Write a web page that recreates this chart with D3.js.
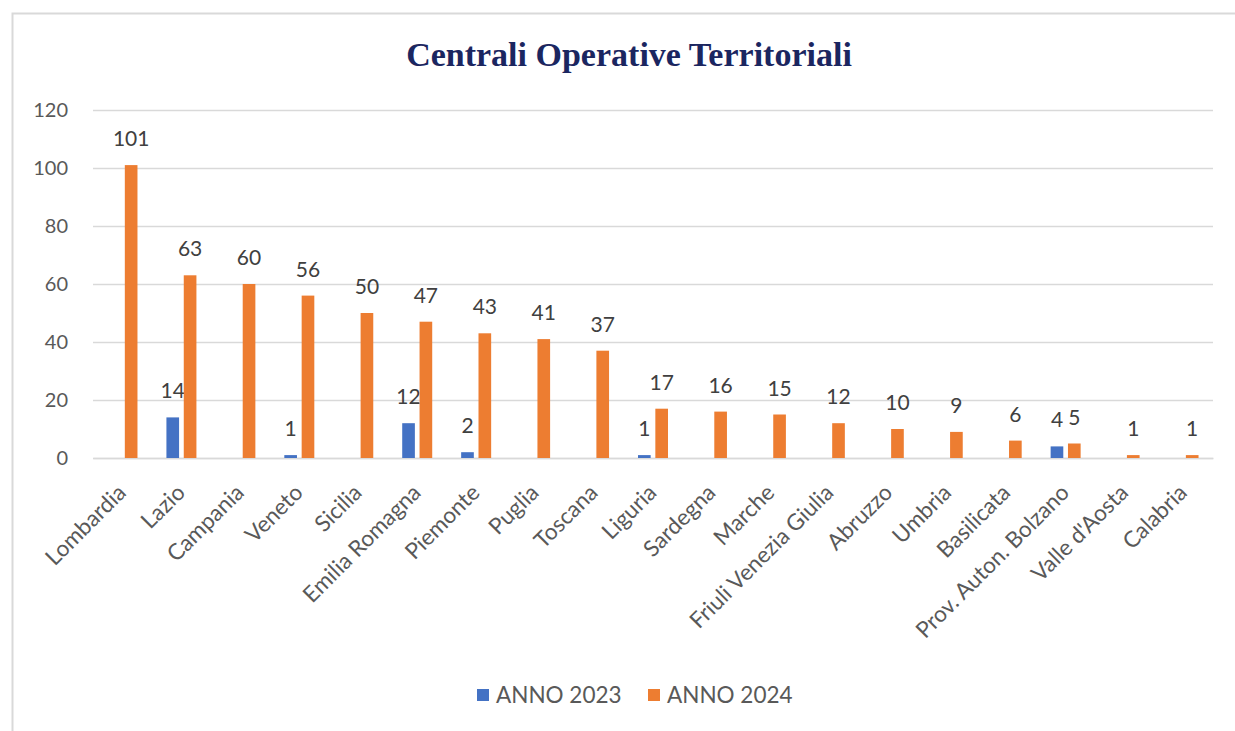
<!DOCTYPE html>
<html>
<head>
<meta charset="utf-8">
<script src="https://cdn.jsdelivr.net/npm/d3@7"></script>
<style>
  body { margin: 0; background: #fff; }
  svg { display: block; }
</style>
</head>
<body>
<script>
const regions = [
  "Lombardia", "Lazio", "Campania", "Veneto", "Sicilia", "Emilia Romagna",
  "Piemonte", "Puglia", "Toscana", "Liguria", "Sardegna", "Marche",
  "Friuli Venezia Giulia", "Abruzzo", "Umbria", "Basilicata",
  "Prov. Auton. Bolzano", "Valle d'Aosta", "Calabria"
];
const anno2023 = [null, 14, null, 1, null, 12, 2, null, null, 1, null, null, null, null, null, null, 4, null, null];
const anno2024 = [101, 63, 60, 56, 50, 47, 43, 41, 37, 17, 16, 15, 12, 10, 9, 6, 5, 1, 1];
const seriesNames = ["ANNO 2023", "ANNO 2024"];
const yTicks = [0, 20, 40, 60, 80, 100, 120];

const width = 1235;
const height = 731;
const colors = { "ANNO 2023": "#4472C4", "ANNO 2024": "#ED7D31" };
const font = "Lato, 'Open Sans', sans-serif";

const svg = d3.select("body").append("svg")
  .attr("width", width)
  .attr("height", height);

// chart frame
svg.append("rect")
  .attr("x", 12.5).attr("y", 13.5)
  .attr("width", width).attr("height", height)
  .attr("fill", "#fff")
  .attr("stroke", "#d9d9d9")
  .attr("stroke-width", 2);

svg.append("text")
  .text("Centrali Operative Territoriali")
  .attr("x", 629).attr("y", 66)
  .attr("text-anchor", "middle")
  .attr("font-family", "'Liberation Serif', 'Times New Roman', serif")
  .attr("font-weight", "bold")
  .attr("font-size", 34)
  .attr("fill", "#1B2660");

const xScale = d3.scaleBand()
  .domain(regions)
  .range([93, 1213]);

const x1 = d3.scaleBand()
  .domain(seriesNames)
  .range([-15, 15])
  .paddingInner(0.27);

const yScale = d3.scaleLinear()
  .domain([0, 120])
  .range([458, 110]);

// gridlines + y labels
const yAxis = d3.axisLeft(yScale)
  .tickValues(yTicks)
  .tickSize(-(1213 - 93))
  .tickPadding(25);

const gy = svg.append("g")
  .attr("transform", "translate(93,0)")
  .call(yAxis);
gy.select(".domain").remove();
gy.selectAll(".tick line").attr("stroke", "#d9d9d9").attr("stroke-width", 1.3);
gy.selectAll(".tick text")
  .attr("font-family", font)
  .attr("font-size", 20)
  .attr("fill", "#595959");

// x labels
const xAxis = d3.axisBottom(xScale).tickSize(0).tickPadding(0);
const gx = svg.append("g")
  .attr("transform", "translate(0,458)")
  .call(xAxis);
gx.select(".domain").attr("stroke", "#d9d9d9").attr("stroke-width", 1.3);
gx.selectAll(".tick text")
  .attr("font-family", font)
  .attr("font-size", 22.5)
  .attr("fill", "#595959")
  .attr("text-anchor", "end")
  .attr("dy", null)
  .attr("y", 0)
  .attr("transform", "translate(5,36) rotate(-45)");

const rows = regions.map((r, i) => ({
  region: r,
  values: [
    { key: "ANNO 2023", value: anno2023[i] },
    { key: "ANNO 2024", value: anno2024[i] }
  ]
}));

const groups = svg.append("g").selectAll("g")
  .data(rows)
  .join("g")
  .attr("transform", (d) => `translate(${xScale(d.region) + xScale.bandwidth() / 2},0)`);

const bars = groups.selectAll("g")
  .data((d) => d.values.filter((v) => v.value !== null))
  .join("g");

bars.append("rect")
  .attr("x", (d) => x1(d.key))
  .attr("width", x1.bandwidth())
  .attr("y", (d) => yScale(d.value))
  .attr("height", (d) => yScale(0) - yScale(d.value))
  .attr("fill", (d) => colors[d.key]);

bars.append("text")
  .text((d) => d.value)
  .attr("x", (d) => x1(d.key) + x1.bandwidth() / 2)
  .attr("y", (d) => yScale(d.value) - 19)
  .attr("text-anchor", "middle")
  .attr("font-family", font)
  .attr("font-size", 21)
  .attr("fill", "#404040");

// legend
const legend = svg.append("g").attr("transform", "translate(477,695)");
const legendPos = [0, 171];
seriesNames.forEach((s, i) => {
  const g = legend.append("g").attr("transform", `translate(${legendPos[i]},0)`);
  g.append("rect")
    .attr("x", 0).attr("y", -6)
    .attr("width", 12).attr("height", 12)
    .attr("fill", colors[s]);
  g.append("text")
    .text(s)
    .attr("x", 19).attr("y", 7.5)
    .attr("font-family", font)
    .attr("font-size", 22.5)
    .attr("fill", "#595959");
});
</script>
</body>
</html>
